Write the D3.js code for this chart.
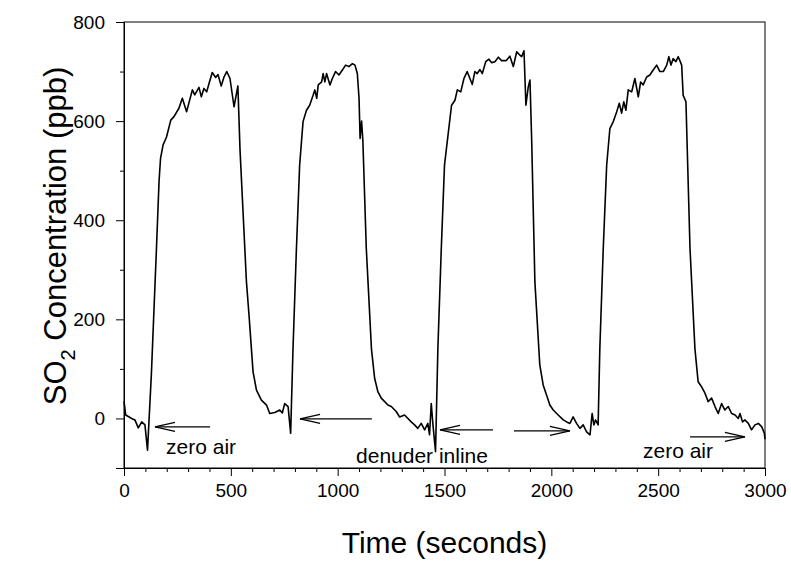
<!DOCTYPE html>
<html><head><meta charset="utf-8">
<script src="https://cdn.jsdelivr.net/npm/d3@7/dist/d3.min.js"></script>
<style>
html,body{margin:0;padding:0;background:#fff;}
svg{display:block;font-family:"Liberation Sans",Arial,sans-serif;}
</style></head>
<body><svg id="c" width="791" height="562"></svg>
<script>
// Time (s) and SO2 (ppb)
const times = [0,8,36,51,67,83,98,110,128,152,164,171,183,199,219,234,257,273,293,320,331,351,362,374,387,398,413,429,440,455,468,481,496,515,533,543,573,585,604,620,643,667,682,706,729,741,752,768,780,791,807,822,838,854,869,885,893,902,909,925,932,940,948,964,975,990,1006,1022,1037,1053,1069,1081,1092,1100,1105,1112,1118,1134,1150,1158,1173,1188,1204,1220,1235,1251,1274,1290,1313,1329,1344,1360,1375,1391,1407,1422,1430,1438,1446,1458,1469,1485,1500,1510,1533,1549,1560,1576,1591,1606,1630,1642,1653,1666,1677,1693,1708,1721,1736,1752,1767,1788,1806,1822,1838,1853,1861,1872,1881,1892,1900,1908,1923,1946,1962,1978,1993,2009,2032,2056,2072,2087,2102,2118,2134,2149,2165,2181,2191,2199,2207,2219,2227,2243,2259,2274,2290,2306,2318,2329,2339,2349,2360,2376,2391,2407,2418,2430,2446,2461,2477,2493,2508,2524,2540,2550,2560,2570,2583,2594,2610,2617,2630,2649,2672,2687,2703,2719,2734,2750,2766,2781,2797,2812,2828,2844,2860,2875,2883,2895,2906,2922,2937,2953,2969,2985,2997,3000];
const so2 = [35,7,0,-3,-19,-7,-13,-64,88,344,478,525,552,568,602,609,626,646,619,663,653,668,649,666,659,676,698,688,694,671,689,700,686,629,671,542,276,209,94,57,37,27,10,12,17,11,30,24,-30,141,343,511,599,622,632,652,663,646,673,679,696,679,696,673,686,700,693,703,713,710,716,713,696,646,565,600,560,343,209,141,81,54,41,34,27,24,14,3,7,0,-7,-13,-20,-10,-23,-10,-33,30,-13,-67,141,343,511,548,632,642,663,659,686,700,674,700,696,704,696,720,725,718,720,729,722,722,731,710,740,733,730,742,632,669,683,562,276,108,67,47,27,17,7,-3,-7,-10,3,-10,-20,-13,-27,-33,10,-13,-3,-13,141,343,511,585,599,619,636,616,639,622,663,659,686,649,679,673,689,693,703,713,700,700,713,730,713,726,720,730,713,652,639,343,141,74,64,51,34,41,24,10,30,17,24,10,7,0,10,-7,-3,-10,-23,-13,-10,-17,-30,-42];

const xTicks = [0,500,1000,1500,2000,2500,3000];
const yTicks = [0,200,400,600,800];
// annotation arrows and labels, in data units (seconds, ppb)
const arrows = [
  {from:[403,-17], to:[145,-17]},
  {from:[1160,-1], to:[824,-1]},
  {from:[1727,-23], to:[1479,-23]},
  {from:[1825,-25], to:[2087,-25]},
  {from:[2649,-37], to:[2906,-37]}
];
const labels = [
  {text:"zero air", at:[197,-72]},
  {text:"denuder inline", at:[1086,-90]},
  {text:"zero air", at:[2429,-80]}
];

const svg = d3.select("#c");
const L=124, R=765, T=22, B=468;
const x = d3.scaleLinear().domain([0,3000]).range([L,R]);
const y = d3.scaleLinear().domain([-100,800]).range([B,T]);

const n = Math.min(times.length, so2.length);
const data = d3.range(n).map(i=>({t:times[i], v:so2[i]}));

// frame
svg.append("rect").attr("x",L).attr("y",T).attr("width",R-L).attr("height",B-T)
  .attr("fill","none").attr("stroke","#000").attr("stroke-width",1);

// axes
const xMinor = d3.range(0,3001,100).filter(d=>d%500!==0);
const yMinor = d3.range(-100,801,100).filter(d=>d%200!==0);
const gx = svg.append("g").attr("transform",`translate(0,${B})`);
gx.call(d3.axisBottom(x).tickValues(xTicks).tickSize(8).tickPadding(8).tickFormat(d3.format("d")));
gx.append("g").call(d3.axisBottom(x).tickValues(xMinor).tickSize(4).tickFormat(""));
const gy = svg.append("g").attr("transform",`translate(${L},0)`);
gy.call(d3.axisLeft(y).tickValues(yTicks).tickSize(8).tickPadding(11).tickFormat(d3.format("d")));
gy.append("g").call(d3.axisLeft(y).tickValues(yMinor).tickSize(4).tickFormat(""));
svg.selectAll(".domain").attr("stroke","#000");
svg.selectAll(".tick line").attr("stroke","#000");
svg.selectAll(".tick text").attr("font-size","19px").attr("fill","#000").attr("font-family","'Liberation Sans',Arial,sans-serif");

// line
svg.append("path").datum(data)
  .attr("fill","none").attr("stroke","#000").attr("stroke-width",1.6).attr("stroke-linejoin","round")
  .attr("d", d3.line().x(d=>x(d.t)).y(d=>y(d.v)));

// arrows
arrows.forEach(a=>{
  const x1=x(a.from[0]), y1=y(a.from[1]), x2=x(a.to[0]), y2=y(a.to[1]);
  const dir = Math.sign(x2-x1);
  svg.append("line").attr("x1",x1).attr("y1",y1).attr("x2",x2).attr("y2",y2)
    .attr("stroke","#000").attr("stroke-width",1.3);
  svg.append("path").attr("d",`M${x2-dir*20},${y2-4.5}L${x2},${y2}L${x2-dir*20},${y2+4.5}`)
    .attr("fill","none").attr("stroke","#000").attr("stroke-width",1.3);
});
labels.forEach(l=>{
  svg.append("text").attr("x",x(l.at[0])).attr("y",y(l.at[1]))
    .attr("font-size","21px").attr("fill","#000").text(l.text);
});

// titles
svg.append("text").attr("x",(L+R)/2).attr("y",553).attr("text-anchor","middle")
  .attr("font-size","30px").text("Time (seconds)");
const yt = svg.append("text").attr("transform",`translate(66,236) rotate(-90)`)
  .attr("text-anchor","middle").attr("font-size","31px");
yt.append("tspan").text("SO");
yt.append("tspan").attr("font-size","20px").attr("dy",9).text("2");
yt.append("tspan").attr("dy",-9).text(" Concentration (ppb)");
</script>
</body></html>
